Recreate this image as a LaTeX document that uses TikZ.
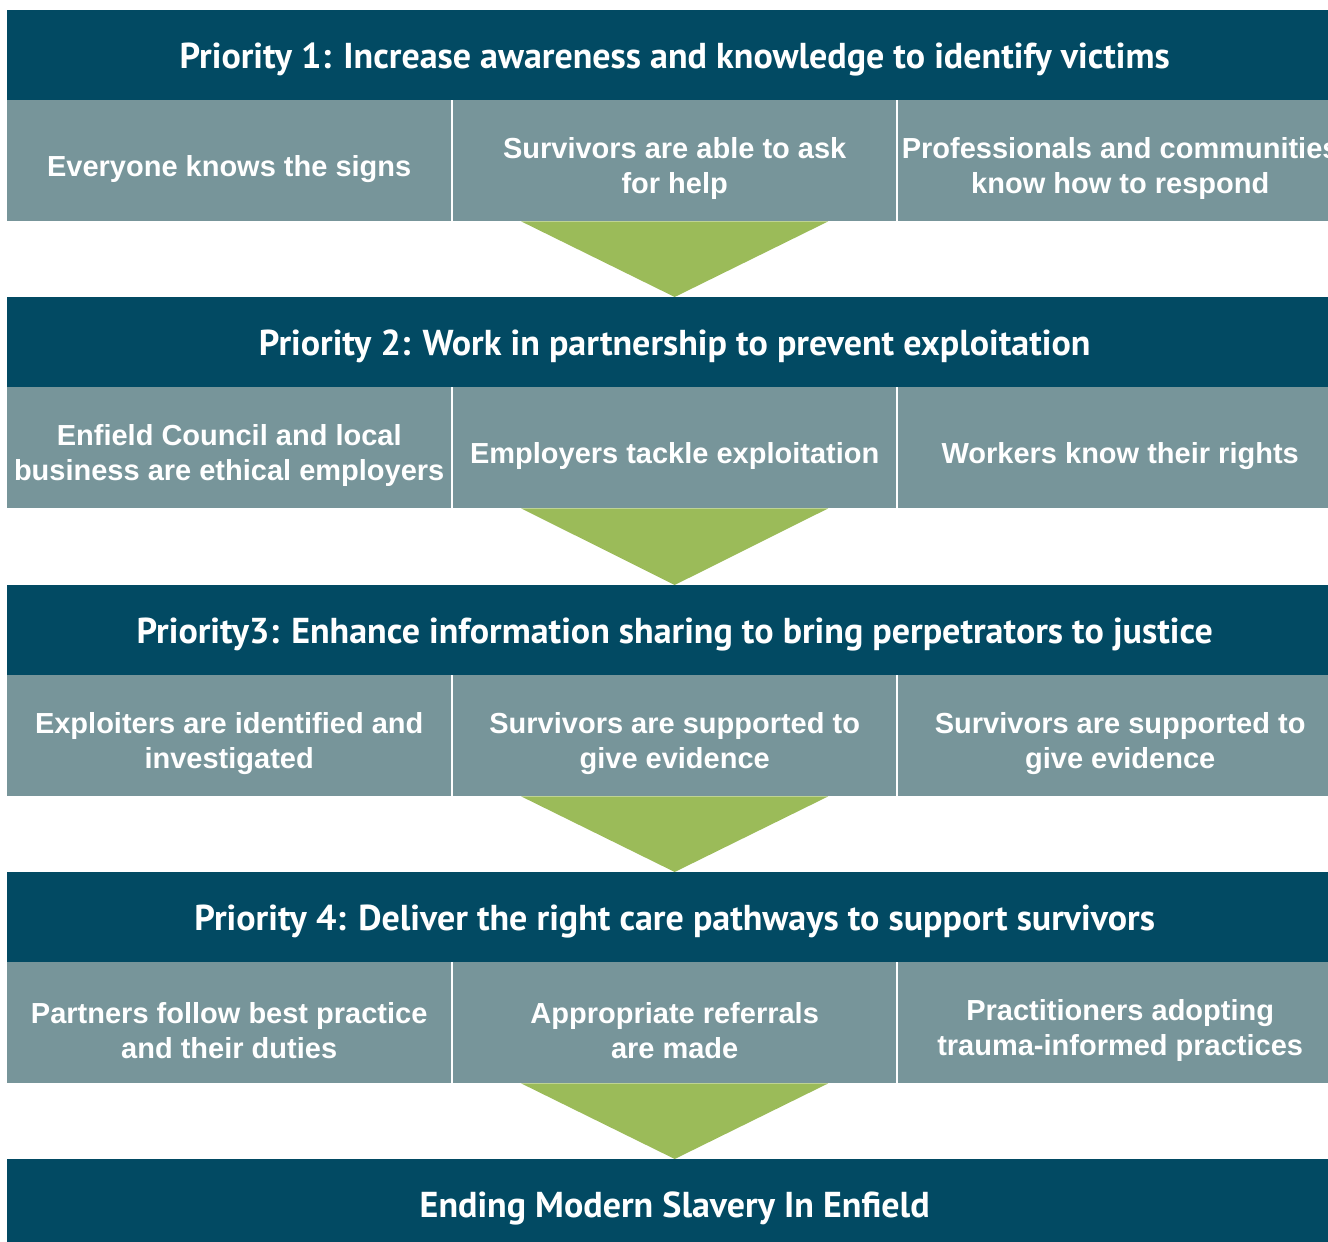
\documentclass[tikz,border=0pt]{standalone}
\usepackage{fontspec}
\setmainfont{Liberation Sans}
\newfontfamily\headfont{PT Sans}
\definecolor{hdr}{RGB}{2,74,99}
\definecolor{subc}{RGB}{119,149,154}
\definecolor{arr}{RGB}{155,187,89}
\begin{document}
\begin{tikzpicture}[x=1pt,y=-1pt,
  header/.style={fill=hdr, minimum width=1335pt, minimum height=90pt, inner sep=0pt, anchor=north west},
  headtext/.style={text=white, inner sep=0pt, font=\headfont\bfseries\fontsize{36}{40}\selectfont},
  subbox/.style={fill=subc, minimum height=121pt, inner sep=0pt, anchor=north west},
  subtext/.style={text=white, inner sep=0pt, align=center, font=\bfseries\fontsize{29}{35}\selectfont},
  cola/.style={subbox, minimum width=444pt},
  colb/.style={subbox, minimum width=443pt},
  colc/.style={subbox, minimum width=444pt},
  arrowtri/.style={fill=arr}]
\path[use as bounding box] (0,0) rectangle (1328,1242);
\clip (0,0) rectangle (1328,1242);

% Row 1
\node[header] (h1) at (7,10) {};
\node[cola] (s11) at (7,100) {};
\node[colb] (s12) at (453,100) {};
\node[colc] (s13) at (898,100) {};
% Row 2
\node[header] (h2) at (7,297) {};
\node[cola] (s21) at (7,387) {};
\node[colb] (s22) at (453,387) {};
\node[colc] (s23) at (898,387) {};
% Row 3
\node[header] (h3) at (7,585) {};
\node[cola] (s31) at (7,675) {};
\node[colb] (s32) at (453,675) {};
\node[colc] (s33) at (898,675) {};
% Row 4
\node[header] (h4) at (7,872) {};
\node[cola] (s41) at (7,962) {};
\node[colb] (s42) at (453,962) {};
\node[colc] (s43) at (898,962) {};
% Final
\node[header] (h5) at (7,1159) {};

% Header texts
\node[headtext] (th1) at ([yshift=-4pt]h1.center) {Priority 1: Increase awareness and knowledge to identify victims};
\node[headtext] (th2) at ([yshift=-4pt]h2.center) {Priority 2: Work in partnership to prevent exploitation};
\node[headtext] (th3) at ([yshift=-4pt]h3.center) {Priority3: Enhance information sharing to bring perpetrators to justice};
\node[headtext] (th4) at ([yshift=-4pt]h4.center) {Priority 4: Deliver the right care pathways to support survivors};
\node[headtext] (th5) at ([yshift=-4pt]h5.center) {Ending Modern Slavery In Enfield};

% Sub texts
\node[subtext] (t11) at ([yshift=-8pt]s11.center) {Everyone knows the signs};
\node[subtext] (t12) at ([yshift=-8pt]s12.center) {Survivors are able to ask\\for help};
\node[subtext] (t13) at ([yshift=-8pt]s13.center) {Professionals and communities\\know how to respond};
\node[subtext] (t21) at ([yshift=-8pt]s21.center) {Enfield Council and local\\business are ethical employers};
\node[subtext] (t22) at ([yshift=-8pt]s22.center) {Employers tackle exploitation};
\node[subtext] (t23) at ([yshift=-8pt]s23.center) {Workers know their rights};
\node[subtext] (t31) at ([yshift=-8pt]s31.center) {Exploiters are identified and\\investigated};
\node[subtext] (t32) at ([yshift=-8pt]s32.center) {Survivors are supported to\\give evidence};
\node[subtext] (t33) at ([yshift=-8pt]s33.center) {Survivors are supported to\\give evidence};
\node[subtext] (t41) at ([yshift=-8pt]s41.center) {Partners follow best practice\\and their duties};
\node[subtext] (t42) at ([yshift=-8pt]s42.center) {Appropriate referrals\\are made};
\node[subtext] (t43) at ([yshift=-8pt]s43.center) {Practitioners adopting\\trauma-informed practices};

% Arrows
\fill[arrowtri] ([xshift=-153.5pt]s12.south) -- ([xshift=153.5pt]s12.south) -- (h2.north) -- cycle;
\fill[arrowtri] ([xshift=-153.5pt]s22.south) -- ([xshift=153.5pt]s22.south) -- (h3.north) -- cycle;
\fill[arrowtri] ([xshift=-153.5pt]s32.south) -- ([xshift=153.5pt]s32.south) -- (h4.north) -- cycle;
\fill[arrowtri] ([xshift=-153.5pt]s42.south) -- ([xshift=153.5pt]s42.south) -- (h5.north) -- cycle;
\end{tikzpicture}
\end{document}
